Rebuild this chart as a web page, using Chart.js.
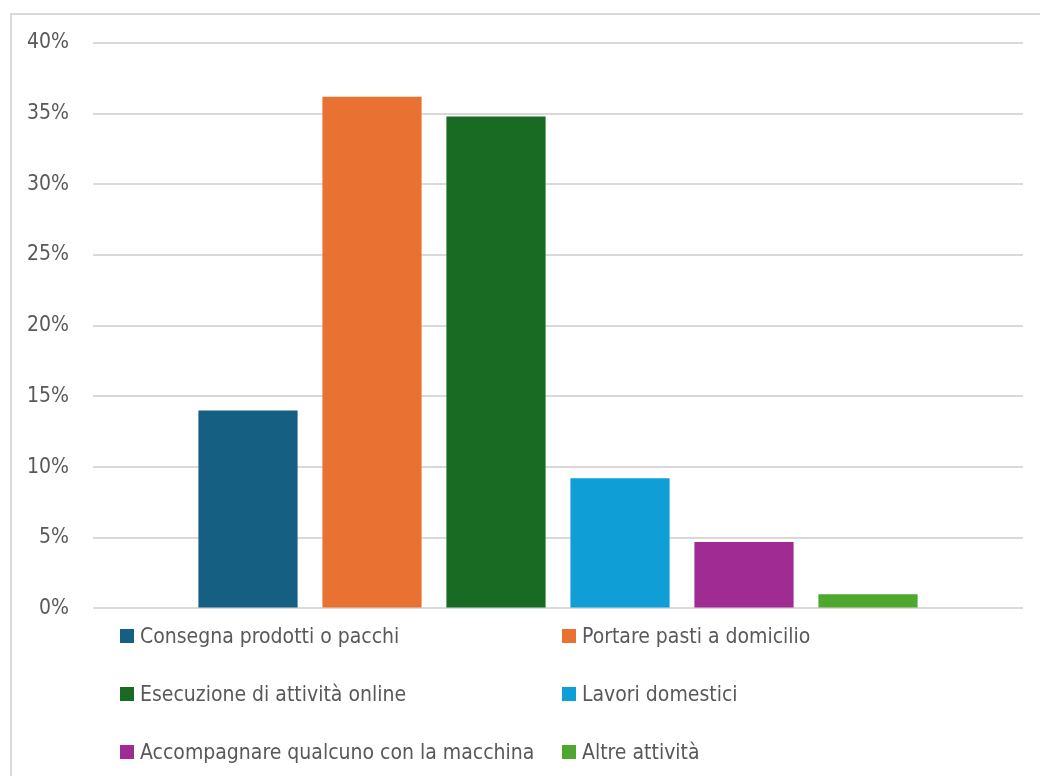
<!DOCTYPE html>
<html>
<head>
<meta charset="utf-8">
<script src="https://cdn.jsdelivr.net/npm/chart.js@4"></script>
<style>
  body { margin: 0; background: #fff; width: 1040px; height: 776px; overflow: hidden; position: relative; font-family: "DejaVu Sans Condensed", "DejaVu Sans", sans-serif; }
  #frame { position: absolute; left: 10px; top: 13px; width: 1100px; height: 900px; border: 2px solid #d9d9d9; box-sizing: border-box; }
  #chart { position: absolute; left: 0; top: 0; }
  #legend { position: absolute; left: 120px; top: 620px; display: grid; grid-template-columns: 442px 440px; grid-auto-rows: 58px; color: #595959; font-size: 21px; }
  #legend div { display: flex; align-items: center; height: 32px; }
  #legend span.box { width: 14px; height: 14px; margin-right: 6px; display: inline-block; }
</style>
</head>
<body>
<div id="frame"></div>
<canvas id="chart" width="1040" height="645"></canvas>
<div id="legend"></div>
<script>
// categories (one group, each activity is its own series)
const labels = [''];
const activities = [
  'Consegna prodotti o pacchi',
  'Portare pasti a domicilio',
  'Esecuzione di attività online',
  'Lavori domestici',
  'Accompagnare qualcuno con la macchina',
  'Altre attività'
];
const shares = [14.0, 36.2, 34.8, 9.2, 4.7, 1.0];
const colors = ['#156082', '#E97132', '#196B24', '#0F9ED5', '#A02B93', '#4EA72E'];
const yTicks = [0, 5, 10, 15, 20, 25, 30, 35, 40];

const datasets = activities.map((name, i) => ({
  label: name,
  data: [shares[i]],
  backgroundColor: colors[i],
  categoryPercentage: 0.8,
  barPercentage: 0.8
}));

const ctx = document.getElementById('chart').getContext('2d');
const chart = new Chart(ctx, {
  type: 'bar',
  data: { labels: labels, datasets: datasets },
  options: {
    responsive: false,
    animation: false,
    layout: { padding: { top: 43, right: 17, bottom: 12, left: 0 } },
    scales: {
      x: { display: false },
      y: {
        min: 0,
        max: 40,
        afterBuildTicks: (scale) => { scale.ticks = yTicks.map(v => ({ value: v })); },
        afterFit: (scale) => { scale.width = 93; },
        ticks: {
          padding: 24,
          color: '#595959',
          font: { family: '"DejaVu Sans Condensed", "DejaVu Sans", sans-serif', size: 21 },
          callback: (v) => v + '%'
        },
        grid: { color: '#d9d9d9', lineWidth: 2, drawTicks: false },
        border: { display: false }
      }
    },
    plugins: {
      legend: { display: false },
      tooltip: { enabled: false }
    }
  }
});

// legend in two columns, built from the same arrays
const legend = document.getElementById('legend');
legend.innerHTML = activities.map((name, i) =>
  `<div><span class="box" style="background:${colors[i]}"></span>${name}</div>`
).join('');
</script>
</body>
</html>
